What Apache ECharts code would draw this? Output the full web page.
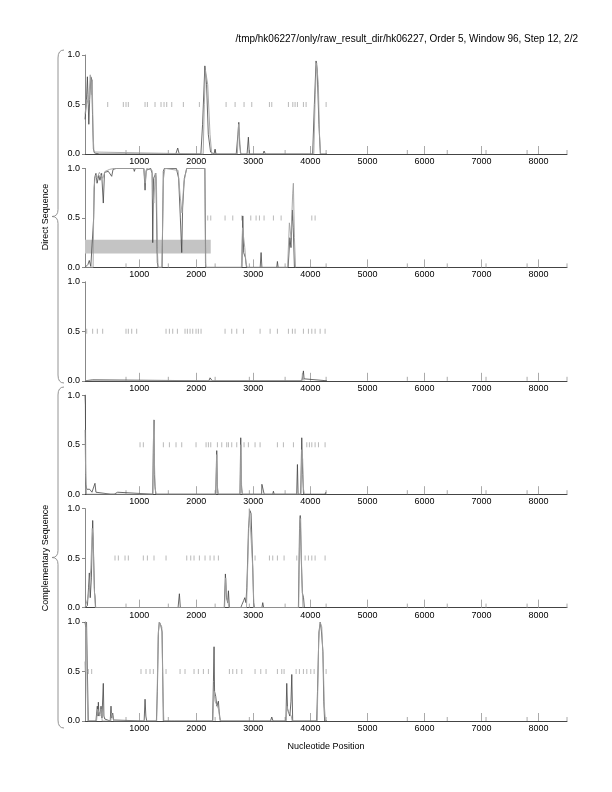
<!DOCTYPE html>
<html><head><meta charset="utf-8">
<script src="https://cdn.jsdelivr.net/npm/echarts@6/dist/echarts.min.js"></script>
<style>html,body{margin:0;padding:0;background:#fff}#c{width:612px;height:792px}</style>
</head><body><div id="c"></div>
<script>
const titleText = "/tmp/hk06227/only/raw_result_dir/hk06227, Order 5, Window 96, Step 12, 2/2";
const xTickLabels = [1000,2000,3000,4000,5000,6000,7000,8000];
const xMin = 48, xMax = 8500;
const minorTicks = [767, 1509, 2330, 2930, 3557, 4276, 5700, 6400, 7080, 7800, 8500];

const p1Dark = [[48,0.35],[70,0.5],[90,0.78],[100,0.6],[115,0.3],[130,0.55],[150,0.78],[165,0.75],[180,0.4],[195,0.05],[215,0.01],[300,0],[1640,0],[1674,0.06],[1700,0],[2080,0],[2110,0.3],[2150,0.89],[2180,0.7],[2210,0.2],[2250,0.02],[2310,0],[2329,0.05],[2345,0],[2700,0],[2730,0.2],[2745,0.32],[2760,0.1],[2780,0],[2890,0],[2913,0.17],[2930,0],[3170,0],[3188,0.03],[3210,0],[4040,0],[4070,0.5],[4100,0.94],[4120,0.85],[4150,0.3],[4175,0],[4290,0]];
const p1Grey = [[48,0.4],[80,0.55],[110,0.5],[140,0.8],[160,0.6],[175,0.75],[190,0.2],[205,0.02],[220,0],[2120,0],[2140,0.5],[2160,0.85],[2200,0.7],[2240,0.2],[2270,0],[2720,0],[2740,0.3],[2755,0.2],[2775,0],[4060,0],[4085,0.6],[4110,0.92],[4140,0.7],[4160,0.2],[4180,0]];
const p1Stops = [446,720,767,808,1101,1142,1276,1381,1434,1481,1569,1773,2054,2522,2680,2837,2972,3282,3323,3615,3692,3732,3773,3878,3925,4276];

const p2Dark = [[48,0],[100,0.03],[123,0.07],[150,0.01],[180,0],[200,0.5],[215,0.9],[240,0.95],[260,0.85],[290,0.93],[310,0.88],[340,0.95],[369,0.65],[390,0.96],[420,0.98],[457,0.97],[480,0.99],[516,0.92],[540,0.99],[600,1],[900,1],[913,0.97],[930,1],[1080,1],[1101,0.78],[1120,0.98],[1200,1],[1225,0.95],[1236,0.25],[1250,0.9],[1290,0.95],[1316,0.05],[1330,0],[1400,0],[1421,0.97],[1440,1],[1650,1],[1690,0.9],[1720,0.5],[1744,0.15],[1760,0.6],[1790,0.9],[1832,1],[2150,1],[2165,0],[2800,0],[2815,0.52],[2830,0.15],[2860,0.1],[2880,0],[3120,0],[3136,0.15],[3150,0],[3410,0],[3422,0.06],[3435,0],[3610,0],[3640,0.3],[3660,0.2],[3685,0.58],[3700,0.4],[3720,0],[4290,0]];
const p2Grey = [[48,0],[190,0],[205,0.8],[230,0.93],[260,0.9],[300,0.96],[360,0.9],[400,0.97],[480,0.99],[560,1],[1080,1],[1101,0.85],[1130,1],[1225,0.98],[1240,0.7],[1255,0.65],[1280,0.95],[1300,0.9],[1316,0.2],[1330,0],[1395,0],[1425,0.9],[1450,1],[1680,0.98],[1720,0.7],[1750,0.55],[1780,0.85],[1830,1],[2150,1],[2160,0.05],[2170,0],[2790,0],[2810,0.4],[2850,0.2],[2870,0.05],[2890,0],[3600,0],[3632,0.45],[3660,0.3],[3690,0.75],[3702,0.85],[3720,0.3],[3740,0]];
const p2Stops = [2200,2253,2504,2639,2797,2955,3048,3107,3188,3352,3487,3685,4025,4083];
const p2Gene = [48, 2253, 0.14, 0.28];

const p3Dark = [[48,0],[182,0.01],[200,0],[2220,0],[2241,0.03],[2260,0.01],[2280,0],[3850,0],[3870,0.05],[3878,0.1],[3890,0.02],[3900,0],[4290,0]];
const p3Grey = [[48,0],[3850,0],[3862,0.08],[3875,0.03],[3890,0]];
const p3Stops = [78,182,264,358,767,808,867,954,1469,1528,1586,1668,1802,1843,1890,1937,1995,2036,2083,2504,2621,2709,2826,3118,3294,3422,3615,3685,3732,3878,3966,4025,4083,4171,4258];

const p4Dark = [[48,1.0],[55,0.9],[62,0.1],[78,0.05],[95,0.06],[110,0.03],[130,0.05],[150,0.07],[170,0.02],[190,0.04],[223,0.11],[240,0.02],[260,0],[500,0],[520,0.02],[560,0],[620,0.02],[650,0],[1235,0],[1250,0.6],[1258,0.75],[1265,0.2],[1275,0.08],[1290,0],[2340,0],[2352,0.3],[2358,0.44],[2368,0.1],[2380,0],[2765,0],[2779,0.57],[2790,0.1],[2805,0],[3145,0],[3150,0.1],[3180,0.1],[3190,0],[3340,0],[3352,0.03],[3365,0],[3760,0],[3773,0.3],[3785,0],[3830,0],[3849,0.57],[3865,0.2],[3880,0],[4258,0],[4270,0.02],[4290,0]];
const p4Grey = [[48,0.65],[60,0.2],[75,0],[1240,0],[1252,0.75],[1262,0.4],[1278,0.06],[1295,0],[2345,0],[2358,0.4],[2372,0.05],[2385,0],[2770,0],[2782,0.5],[2795,0.05],[2810,0],[3835,0],[3850,0.45],[3865,0.35],[3880,0.05],[3895,0]];
const p4Stops = [1013,1071,1422,1528,1644,1744,1995,2171,2212,2253,2370,2446,2533,2563,2621,2709,2837,2913,3030,3118,3422,3527,3703,3937,3983,4025,4083,4142,4258];

const p5Dark = [[48,0],[90,0.02],[110,0.2],[124,0.35],[140,0.1],[160,0.3],[183,0.88],[200,0.5],[215,0.15],[223,0.12],[235,0],[1680,0],[1703,0.14],[1720,0],[2490,0],[2510,0.34],[2530,0.1],[2550,0.05],[2563,0.17],[2580,0],[2780,0],[2800,0.03],[2830,0.07],[2850,0.1],[2870,0.05],[2885,0.2],[2896,0.4],[2915,0.8],[2940,0.98],[2960,0.95],[2985,0.5],[3005,0.05],[3020,0],[3150,0],[3165,0.05],[3180,0],[3790,0],[3810,0.8],[3822,0.93],[3840,0.5],[3860,0.15],[3880,0.1],[3895,0],[4290,0]];
const p5Grey = [[48,0],[100,0.1],[124,0.2],[150,0.4],[175,0.8],[190,0.7],[210,0.2],[230,0],[2495,0],[2515,0.3],[2535,0.1],[2560,0.12],[2575,0],[2880,0],[2905,0.5],[2930,1.0],[2955,0.98],[2990,0.4],[3010,0],[3795,0],[3815,0.85],[3830,0.9],[3850,0.3],[3870,0]];
const p5Stops = [574,633,750,808,1071,1142,1258,1469,1832,1902,1960,2054,2153,2241,2311,2387,3030,3282,3340,3422,3539,3761,3908,3966,4025,4083,4258];

const p6Dark = [[48,1.0],[60,0.95],[75,1.0],[90,0.5],[106,0],[240,0],[255,0.1],[264,0.15],[275,0.05],[282,0.19],[295,0.05],[320,0.1],[329,0.15],[345,0.03],[369,0.38],[380,0.05],[395,0.02],[420,0],[490,0],[504,0.15],[515,0.03],[534,0.08],[550,0.01],[570,0],[1085,0],[1101,0.22],[1115,0.05],[1130,0],[1300,0],[1317,0.3],[1335,0.9],[1352,1.0],[1375,0.97],[1400,0.9],[1410,0.5],[1422,0],[1560,0],[1590,0.02],[1620,0],[2285,0],[2300,0.4],[2311,0.75],[2320,0.3],[2340,0.25],[2360,0.15],[2387,0.2],[2400,0.1],[2420,0],[3300,0],[3323,0.04],[3345,0],[3570,0],[3586,0.38],[3600,0.12],[3620,0.1],[3640,0.05],[3660,0.2],[3674,0.47],[3690,0],[4110,0],[4125,0.3],[4150,0.9],[4175,1.0],[4195,0.9],[4220,0.7],[4235,0.2],[4250,0],[4290,0]];
const p6Grey = [[48,0.6],[55,0.5],[62,1.0],[72,0.9],[85,0.3],[100,0],[250,0],[270,0.12],[290,0.14],[310,0.05],[330,0.12],[350,0],[500,0],[515,0.08],[530,0.05],[550,0],[1305,0],[1330,0.85],[1350,1.0],[1375,1.0],[1395,0.95],[1415,0.3],[1430,0],[2290,0],[2310,0.3],[2330,0.2],[2360,0.22],[2390,0.12],[2410,0.03],[2430,0],[3575,0],[3590,0.15],[3610,0.1],[3640,0.1],[3665,0.05],[3680,0],[4120,0],[4145,0.8],[4170,1.0],[4200,0.95],[4225,0.6],[4245,0.15],[4265,0]];
const p6Stops = [106,165,1030,1118,1188,1247,1469,1715,1802,1960,2036,2124,2212,2580,2639,2709,2797,3030,3130,3223,3422,3498,3539,3750,3808,3878,3937,4007,4066,4276];

const panels = [
  {dark:p1Dark, grey:p1Grey, stops:p1Stops},
  {dark:p2Dark, grey:p2Grey, stops:p2Stops, gene:p2Gene},
  {dark:p3Dark, grey:p3Grey, stops:p3Stops},
  {dark:p4Dark, grey:p4Grey, stops:p4Stops},
  {dark:p5Dark, grey:p5Grey, stops:p5Stops},
  {dark:p6Dark, grey:p6Grey, stops:p6Stops}
];

const FONT = "'Liberation Sans', Arial, Helvetica, sans-serif";
const grids = [], xAxes = [], yAxes = [], series = [];
panels.forEach((p, i) => {
  grids.push({left:85, width:482, top:55 + 113.4*i, height:99});
  xAxes.push({type:'value', gridIndex:i, min:xMin, max:xMax,
    axisLine:{show:true, lineStyle:{color:'#444', width:1}},
    axisTick:{show:true, inside:true, length:8, customValues:xTickLabels, lineStyle:{color:'#aaa'}},
    axisLabel:{show:true, customValues:xTickLabels, fontSize:9, color:'#000', fontFamily:FONT, margin:3, formatter:v=>String(v)},
    splitLine:{show:false}});
  yAxes.push({type:'value', gridIndex:i, min:0, max:1, interval:0.5,
    axisLine:{show:true, lineStyle:{color:'#888', width:1}},
    axisTick:{show:true, length:3, lineStyle:{color:'#888'}},
    axisLabel:{fontSize:9, color:'#000', fontFamily:FONT, margin:5, formatter:v=>v.toFixed(1)},
    splitLine:{show:false}});
  if (p.gene) {
    series.push({type:'line', xAxisIndex:i, yAxisIndex:i, data:[], z:1, silent:true,
      markArea:{silent:true, itemStyle:{color:'#c4c4c4'},
        data:[[{xAxis:p.gene[0], yAxis:p.gene[2]},{xAxis:p.gene[1], yAxis:p.gene[3]}]]}});
  }
  series.push({type:'custom', xAxisIndex:i, yAxisIndex:i, z:2, silent:true,
    data:minorTicks.map(v=>[v,0]),
    renderItem:(params, api)=>{ const c = api.coord([api.value(0),0]);
      return {type:'line', shape:{x1:c[0], y1:c[1], x2:c[0], y2:c[1]-4}, style:{stroke:'#aaa', lineWidth:1}}; }});
  series.push({type:'scatter', xAxisIndex:i, yAxisIndex:i, z:3, silent:true,
    symbol:'rect', symbolSize:[1,5], itemStyle:{color:'#a8a8a8'},
    data:p.stops.map(v=>[v,0.5])});
  series.push({type:'line', xAxisIndex:i, yAxisIndex:i, z:4, silent:true, showSymbol:false,
    lineStyle:{color:'#444', width:0.8}, data:p.dark});
  series.push({type:'line', xAxisIndex:i, yAxisIndex:i, z:5, silent:true, showSymbol:false,
    lineStyle:{color:'#a0a0a0', width:0.9}, data:p.grey});
});

function brace(top, bottom, x) {
  const mid = (top+bottom)/2;
  const st = {fill:null, stroke:'#888', lineWidth:0.9};
  return [
    {type:'bezierCurve', shape:{x1:x+6, y1:top, cpx1:x, cpy1:top, x2:x, y2:top+8}, style:st},
    {type:'line', shape:{x1:x, y1:top+8, x2:x, y2:mid-7}, style:st},
    {type:'bezierCurve', shape:{x1:x, y1:mid-7, cpx1:x, cpy1:mid, x2:x-6, y2:mid}, style:st},
    {type:'bezierCurve', shape:{x1:x-6, y1:mid, cpx1:x, cpy1:mid, x2:x, y2:mid+7}, style:st},
    {type:'line', shape:{x1:x, y1:mid+7, x2:x, y2:bottom-8}, style:st},
    {type:'bezierCurve', shape:{x1:x, y1:bottom-8, cpx1:x, cpy1:bottom, x2:x+6, y2:bottom}, style:st}
  ];
}

function vtext(str, cx, cy) {
  return {type:'text', x:cx, y:cy, rotation:Math.PI/2, originX:0, originY:0,
    style:{text:str, x:0, y:0, fontSize:9, fontFamily:FONT, fill:'#000',
      align:'center', verticalAlign:'middle', textAlign:'center', textVerticalAlign:'middle'}};
}

const chart = echarts.init(document.getElementById('c'), null, {renderer:'canvas'});
chart.setOption({
  animation:false,
  backgroundColor:'#fff',
  grid:grids, xAxis:xAxes, yAxis:yAxes, series:series,
  graphic:[
    {type:'text', x:578, y:34, style:{text:titleText, fontSize:10, fontFamily:FONT, fill:'#000', align:'right', verticalAlign:'top'}},
    vtext('Direct Sequence', 46, 217),
    vtext('Complementary Sequence', 46, 558),
    ...brace(50,383,58),
    ...brace(387,728,58),
    {type:'text', x:326, y:747, style:{text:'Nucleotide Position', fontSize:9, fontFamily:FONT, fill:'#000', align:'center', verticalAlign:'middle'}}
  ]
});
</script></body></html>
